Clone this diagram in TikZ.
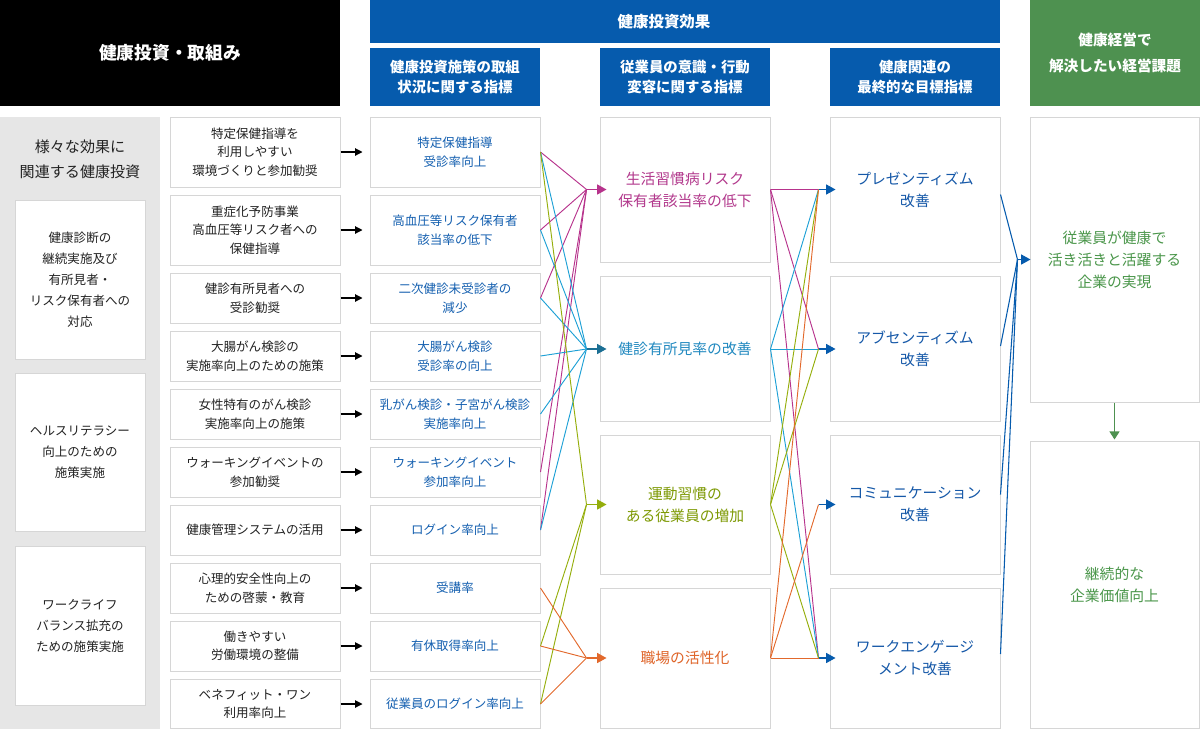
\documentclass[tikz,border=0pt]{standalone}
\usepackage{fontspec}
\setmainfont{Noto Sans CJK JP}
\usetikzlibrary{arrows.meta,calc}
\definecolor{hblue}{HTML}{065BAD}
\definecolor{hgreen}{HTML}{4E9150}
\definecolor{txtblue}{HTML}{1560B0}
\definecolor{txtdark}{HTML}{222222}
\definecolor{bord}{HTML}{D6D6D6}
\definecolor{panelgray}{HTML}{E6E6E6}
\definecolor{cMag}{HTML}{B7338C}
\definecolor{cCyn}{HTML}{1DA0D5}
\definecolor{cTeal}{HTML}{1B6F94}
\definecolor{cOlv}{HTML}{95AE0C}
\definecolor{cOrg}{HTML}{E2692C}
\definecolor{tMag}{HTML}{B2388C}
\definecolor{tCyn}{HTML}{2189C0}
\definecolor{tOlv}{HTML}{7E9A05}
\definecolor{tOrg}{HTML}{DF6428}
\definecolor{tBlue}{HTML}{1558A8}
\definecolor{tGreen}{HTML}{4A964A}
\begin{document}
\begin{tikzpicture}[x=0.75pt,y=-0.75pt,
  bx/.style={draw=bord,line width=0.75pt,fill=white,inner sep=0pt,align=center},
  sm/.style={font=\fontsize{9.4pt}{13.9pt}\selectfont},
  colA/.style={bx,sm,minimum width=127.5pt,text=txtdark},
  colB/.style={bx,sm,minimum width=127.5pt,text=txtblue},
  hT/.style={minimum height=52.5pt},
  hS/.style={minimum height=37.5pt},
  big/.style={bx,minimum width=127.5pt,font=\fontsize{11.1pt}{16.5pt}\selectfont},
  gbox/.style={bx,minimum width=97.5pt,minimum height=119pt,text=txtdark,font=\fontsize{9.4pt}{15.75pt}\selectfont},
  hdr/.style={inner sep=0pt,align=center,text=white,font=\bfseries\fontsize{10.8pt}{15pt}\selectfont},
  lmag/.style={draw=cMag,line width=0.7pt},
  lcyn/.style={draw=cCyn,line width=0.7pt},
  lolv/.style={draw=cOlv,line width=0.7pt},
  lorg/.style={draw=cOrg,line width=0.7pt},
  lblu/.style={draw=hblue,line width=0.8pt},
  tip/.style={-{Triangle[length=7pt,width=7.5pt]}},
  sarr/.style={draw=black,line width=0.8pt,-{Triangle[length=5.5pt,width=5.5pt]},shorten >=5.25pt}
]
\useasboundingbox (0,0) rectangle (1200,729);

% headers
\node[hdr,fill=black,minimum width=255pt,minimum height=79.5pt,font=\bfseries\fontsize{13.3pt}{16pt}\selectfont] (hL) at (170,53) {健康投資・取組み};
\node[hdr,fill=hblue,minimum width=472.5pt,minimum height=32.25pt] (hTop) at (685,21.5) {};
\node[hdr,font=\bfseries\fontsize{11.6pt}{14pt}\selectfont] (hTopT) at (664,21.5) {健康投資効果};
\node[hdr,fill=hblue,minimum width=127.5pt,minimum height=43.5pt] (h1) at (455,77) {健康投資施策の取組\\状況に関する指標};
\node[hdr,fill=hblue,minimum width=127.5pt,minimum height=43.5pt] (h2) at (685,77) {従業員の意識・行動\\変容に関する指標};
\node[hdr,fill=hblue,minimum width=127.5pt,minimum height=43.5pt] (h3) at (915,77) {健康関連の\\最終的な目標指標};
\node[hdr,fill=hgreen,minimum width=127.5pt,minimum height=79.5pt,font=\bfseries\fontsize{11pt}{19.5pt}\selectfont] (h4) at (1115,53) {健康経営で\\解決したい経営課題};

% left panel
\fill[panelgray] (0,117) rectangle (160,729);
\node[inner sep=0pt,align=center,text=txtdark,font=\fontsize{11.3pt}{18.75pt}\selectfont] (pL) at (80,159.5) {様々な効果に\\関連する健康投資};
\node[gbox] (g1) at (80,280) {健康診断の\\継続実施及び\\有所見者・\\リスク保有者への\\対応};
\node[gbox] (g2) at (80,452.5) {ヘルスリテラシー\\向上のための\\施策実施};
\node[gbox] (g3) at (80,626) {ワークライフ\\バランス拡充の\\ための施策実施};

% column 1
\node[colA,hT] (a1) at (255,152) {特定保健指導を\\利用しやすい\\環境づくりと参加勧奨};
\node[colA,hT] (a2) at (255,230) {重症化予防事業\\高血圧等リスク者への\\保健指導};
\node[colA,hS] (a3) at (255,298) {健診有所見者への\\受診勧奨};
\node[colA,hS] (a4) at (255,356) {大腸がん検診の\\実施率向上のための施策};
\node[colA,hS] (a5) at (255,414) {女性特有のがん検診\\実施率向上の施策};
\node[colA,hS] (a6) at (255,472) {ウォーキングイベントの\\参加勧奨};
\node[colA,hS] (a7) at (255,530) {健康管理システムの活用};
\node[colA,hS] (a8) at (255,588) {心理的安全性向上の\\ための啓蒙・教育};
\node[colA,hS] (a9) at (255,646) {働きやすい\\労働環境の整備};
\node[colA,minimum height=36.75pt] (a10) at (255,704) {ベネフィット・ワン\\利用率向上};

% column 2
\node[colB,hT] (i1) at (455,152) {特定保健指導\\受診率向上};
\node[colB,hT] (i2) at (455,230) {高血圧等リスク保有者\\該当率の低下};
\node[colB,hS] (i3) at (455,298) {二次健診未受診者の\\減少};
\node[colB,hS] (i4) at (455,356) {大腸がん検診\\受診率の向上};
\node[colB,hS] (i5) at (455,414) {乳がん検診・子宮がん検診\\実施率向上};
\node[colB,hS] (i6) at (455,472) {ウォーキングイベント\\参加率向上};
\node[colB,hS] (i7) at (455,530) {ログイン率向上};
\node[colB,hS] (i8) at (455,588) {受講率};
\node[colB,hS] (i9) at (455,646) {有休取得率向上};
\node[colB,minimum height=36.75pt] (i10) at (455,704) {従業員のログイン率向上};

% column 3
\node[big,minimum height=108.75pt,text=tMag] (A) at (685,189.5) {生活習慣病リスク\\保有者該当率の低下};
\node[big,minimum height=108.75pt,text=tCyn] (B) at (685,349) {健診有所見率の改善};
\node[big,minimum height=104.25pt,text=tOlv] (C) at (685,504.5) {運動習慣の\\ある従業員の増加};
\node[big,minimum height=105pt,text=tOrg] (D) at (685,658) {職場の活性化};

% column 4
\node[big,minimum height=108.75pt,text=tBlue] (E) at (915,189.5) {プレゼンティズム\\改善};
\node[big,minimum height=108.75pt,text=tBlue] (F) at (915,349) {アブセンティズム\\改善};
\node[big,minimum height=104.25pt,text=tBlue] (G) at (915,504.5) {コミュニケーション\\改善};
\node[big,minimum height=105pt,text=tBlue] (H) at (915,658) {ワークエンゲージ\\メント改善};

% column 5
\node[big,minimum width=126.75pt,minimum height=213.75pt,text=tGreen] (I) at (1114.5,259.5) {従業員が健康で\\活き活きと活躍する\\企業の実現};
\node[big,minimum width=126.75pt,minimum height=214.9pt,text=tGreen] (J) at (1114.5,585.25) {継続的な\\企業価値向上};

% column 1 -> column 2 arrows
\foreach \r in {1,...,10} \draw[sarr] (a\r.east) -- (i\r.west);

% junction points
\foreach \n in {A,B,C,D} {
  \coordinate (c\n) at ($(\n.west)+(-13,0)$);
  \coordinate (t\n) at ($(\n.west)+(7,0)$);
}
\foreach \n in {E,F,G,H} {
  \coordinate (c\n) at ($(\n.west)+(-11,0)$);
  \coordinate (t\n) at ($(\n.west)+(6,0)$);
}
\coordinate (cI) at ($(I.west)+(-12,0)$);
\coordinate (tI) at ($(I.west)+(1,0)$);

% column 2 -> column 3
\foreach \r in {1,2,3,6,7} \draw[lmag] (i\r.east) -- (cA);
\foreach \r in {1,2,3,4,5,7} \draw[lcyn] (i\r.east) -- (cB);
\foreach \r in {1,9,10} \draw[lolv] (i\r.east) -- (cC);
\foreach \r in {8,9,10} \draw[lorg] (i\r.east) -- (cD);
\draw[lmag,line width=0.9pt,tip] (cA) -- (tA);
\draw[draw=cTeal,line width=0.9pt,tip] (cB) -- (tB);
\draw[lolv,line width=0.9pt,tip] (cC) -- (tC);
\draw[lorg,line width=0.9pt,tip] (cD) -- (tD);

% column 3 -> column 4
\foreach \m in {E,F,H} \draw[lmag] (A.east) -- (c\m);
\foreach \m in {E,F,H} \draw[lcyn] (B.east) -- (c\m);
\foreach \m in {E,F,H} \draw[lolv] (C.east) -- (c\m);
\foreach \m in {E,G,H} \draw[lorg] (D.east) -- (c\m);
\foreach \m in {E,F,G,H} \draw[lblu,tip] (c\m) -- (t\m);

% column 4 -> column 5
\draw[lblu] ($(E.east)+(0,5)$) -- (cI);
\draw[lblu] ($(F.east)+(0,-3)$) -- (cI);
\draw[lblu] ($(G.east)+(0,-10)$) -- (cI);
\draw[lblu] ($(H.east)+(0,-4)$) -- (cI);
\draw[lblu,tip] (cI) -- (tI);

% column 5 down arrow
\draw[draw=hgreen,line width=0.8pt,-{Triangle[length=6pt,width=7.5pt]},shorten >=1.5pt] (I.south) -- (J.north);
\end{tikzpicture}
\end{document}
